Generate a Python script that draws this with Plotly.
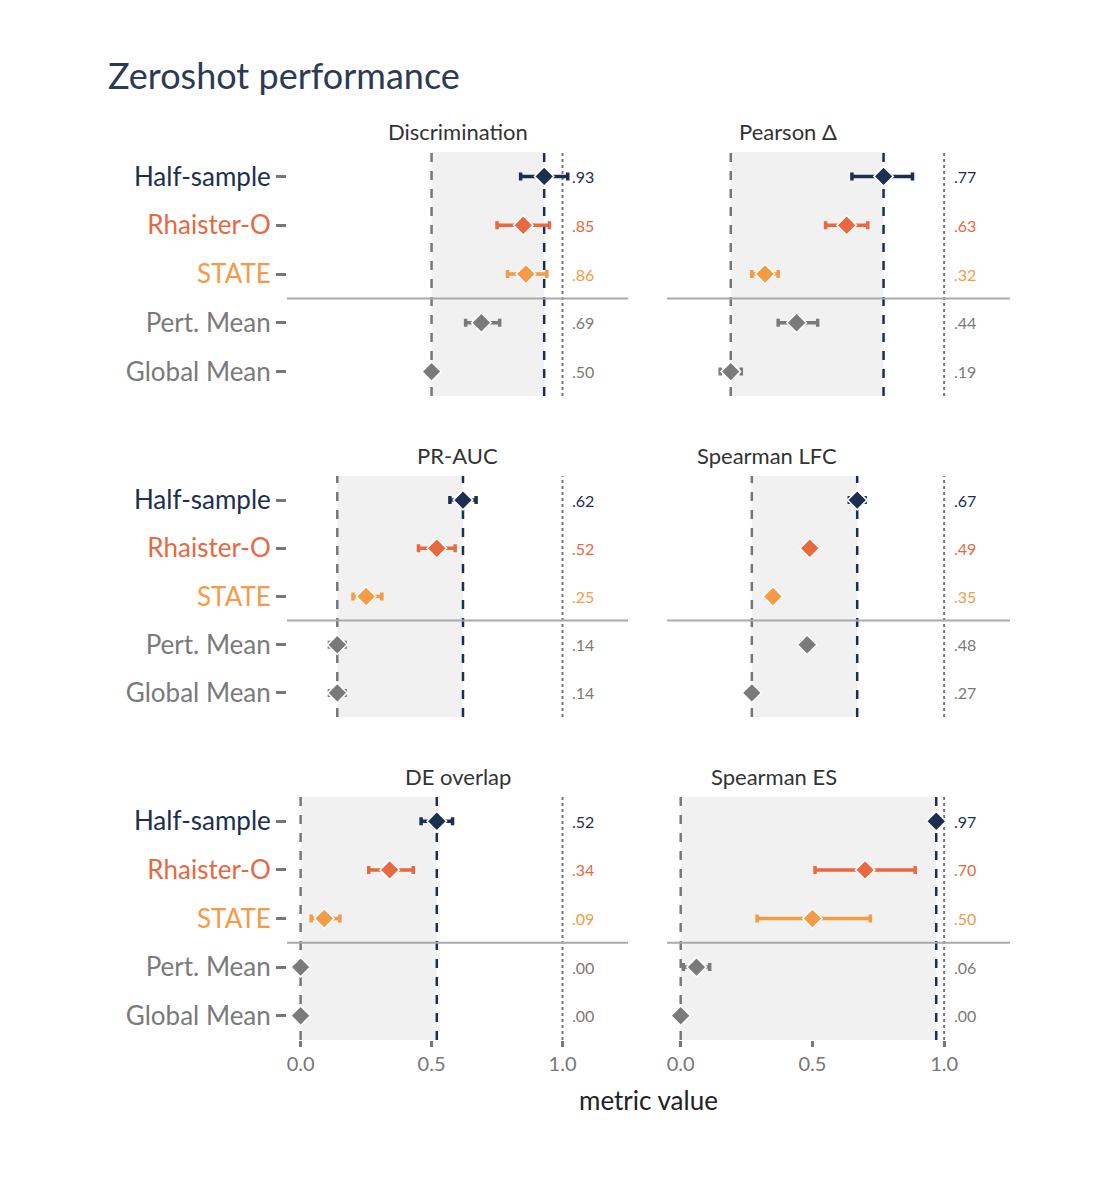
import plotly.graph_objects as go

# rows top to bottom
models = ["Half-sample", "Rhaister-O", "STATE", "Pert. Mean", "Global Mean"]
colors = ["#1b2f50", "#e8683f", "#f59a45", "#7a7a7a", "#7a7a7a"]

panels = ["Discrimination", "Pearson Δ", "PR-AUC", "Spearman LFC", "DE overlap", "Spearman ES"]
values = {
    "Discrimination": [0.93, 0.85, 0.86, 0.69, 0.50],
    "Pearson Δ":      [0.77, 0.63, 0.32, 0.44, 0.19],
    "PR-AUC":         [0.62, 0.52, 0.25, 0.14, 0.14],
    "Spearman LFC":   [0.67, 0.49, 0.35, 0.48, 0.27],
    "DE overlap":     [0.52, 0.34, 0.09, 0.00, 0.00],
    "Spearman ES":    [0.97, 0.70, 0.50, 0.06, 0.00],
}
ci_low = {
    "Discrimination": [0.84, 0.75, 0.79, 0.63, 0.50],
    "Pearson Δ":      [0.65, 0.55, 0.27, 0.37, 0.15],
    "PR-AUC":         [0.57, 0.45, 0.20, 0.11, 0.11],
    "Spearman LFC":   [0.64, 0.47, 0.35, 0.46, 0.27],
    "DE overlap":     [0.46, 0.26, 0.04, 0.00, 0.00],
    "Spearman ES":    [0.97, 0.51, 0.29, 0.01, 0.00],
}
ci_high = {
    "Discrimination": [1.02, 0.95, 0.94, 0.76, 0.50],
    "Pearson Δ":      [0.88, 0.71, 0.37, 0.52, 0.23],
    "PR-AUC":         [0.67, 0.59, 0.31, 0.17, 0.17],
    "Spearman LFC":   [0.70, 0.51, 0.35, 0.50, 0.27],
    "DE overlap":     [0.58, 0.43, 0.15, 0.00, 0.00],
    "Spearman ES":    [0.97, 0.89, 0.72, 0.11, 0.00],
}
labels = {
    "Discrimination": [".93", ".85", ".86", ".69", ".50"],
    "Pearson Δ":      [".77", ".63", ".32", ".44", ".19"],
    "PR-AUC":         [".62", ".52", ".25", ".14", ".14"],
    "Spearman LFC":   [".67", ".49", ".35", ".48", ".27"],
    "DE overlap":     [".52", ".34", ".09", ".00", ".00"],
    "Spearman ES":    [".97", ".70", ".50", ".06", ".00"],
}

W, H = 1100, 1200
OFF = 8  # page body margin


def px(x):
    return (x - OFF) / W


def py(y):
    return 1 - (y - OFF) / H


col_dom = [(px(287), px(628)), (px(667), px(1010))]
row_px = [(152, 396), (476, 717), (797, 1040)]
FONT = "Lato"

fig = go.Figure()
shapes, annotations = [], []
layout = {}

for i, p in enumerate(panels):
    r, c = divmod(i, 2)
    n = i + 1
    xa = "x" if n == 1 else f"x{n}"
    ya = "y" if n == 1 else f"y{n}"
    ydom = (py(row_px[r][1]), py(row_px[r][0]))
    v = values[p]
    ys = list(range(len(models)))

    # shaded band between global mean and half-sample
    shapes.append(dict(type="rect", xref=xa, yref=f"{ya} domain", x0=v[4], x1=v[0], y0=0, y1=1,
                       fillcolor="#f1f1f1", line_width=0, layer="below"))
    shapes.append(dict(type="line", xref=xa, yref=f"{ya} domain", x0=v[4], x1=v[4], y0=0, y1=1,
                       line=dict(color="#777777", width=2.5, dash="dash"), layer="below"))
    shapes.append(dict(type="line", xref=xa, yref=f"{ya} domain", x0=v[0], x1=v[0], y0=0, y1=1,
                       line=dict(color="#1b2f50", width=2.5, dash="dash"), layer="below"))
    shapes.append(dict(type="line", xref=xa, yref=f"{ya} domain", x0=1, x1=1, y0=0, y1=1,
                       line=dict(color="#777777", width=2, dash="dot"), layer="below"))
    shapes.append(dict(type="line", xref=f"{xa} domain", yref=ya, x0=0, x1=1, y0=2.5, y1=2.5,
                       line=dict(color="#aaaaaa", width=2), layer="below"))

    for k in ys:
        fig.add_trace(go.Scatter(
            x=[v[k]], y=[k], xaxis=xa, yaxis=ya, mode="markers", showlegend=False,
            marker=dict(symbol="diamond", size=15, color=colors[k], line=dict(color="white", width=1.5)),
            error_x=dict(type="data", symmetric=False, array=[ci_high[p][k] - v[k]],
                         arrayminus=[v[k] - ci_low[p][k]], color=colors[k], thickness=3.5, width=4,
                         visible=ci_high[p][k] - ci_low[p][k] > 0.001),
        ))
        annotations.append(dict(x=1.03, y=k, xref=xa, yref=ya, text=labels[p][k], showarrow=False,
                                xanchor="left", font=dict(family=FONT, size=16, color=colors[k])))

    annotations.append(dict(x=(col_dom[c][0] + col_dom[c][1]) / 2, y=py(row_px[r][0] - 21),
                            xref="paper", yref="paper", text=p, showarrow=False, yanchor="middle",
                            font=dict(family=FONT, size=22, color="#333333")))

    bottom = r == 2
    layout[xa.replace("x", "xaxis")] = dict(
        domain=col_dom[c], anchor=ya, range=[-0.052, 1.25], showgrid=False, zeroline=False,
        tickvals=[0, 0.5, 1.0], ticktext=["0.0", "0.5", "1.0"], showticklabels=bottom,
        ticks="outside" if bottom else "", ticklen=6, tickwidth=3, tickcolor="#777777",
        tickfont=dict(family=FONT, size=20, color="#777777"), showline=False)
    ticktext = [f"<span style='color:{colors[k]}'>{m}</span>" for k, m in enumerate(models)]
    layout[ya.replace("y", "yaxis")] = dict(
        domain=ydom, anchor=xa, range=[4.5, -0.5], showgrid=False, zeroline=False,
        tickvals=ys, ticktext=ticktext, showticklabels=(c == 0),
        ticks="outside" if c == 0 else "", ticklen=10, tickwidth=3, tickcolor="#777777",
        tickfont=dict(family=FONT, size=26))

annotations.append(dict(x=px(106), y=py(75), xref="paper", yref="paper", text="Zeroshot performance",
                        showarrow=False, xanchor="left", yanchor="middle",
                        font=dict(family=FONT, size=36, color="#2b3a55")))
annotations.append(dict(x=px(648), y=py(1100), xref="paper", yref="paper", text="metric value",
                        showarrow=False, yanchor="middle",
                        font=dict(family=FONT, size=26, color="#222222")))

fig.update_layout(width=W, height=H, margin=dict(l=0, r=0, t=0, b=0), plot_bgcolor="white",
                  paper_bgcolor="white", shapes=shapes, annotations=annotations, **layout)

fig.write_html("out.html")
